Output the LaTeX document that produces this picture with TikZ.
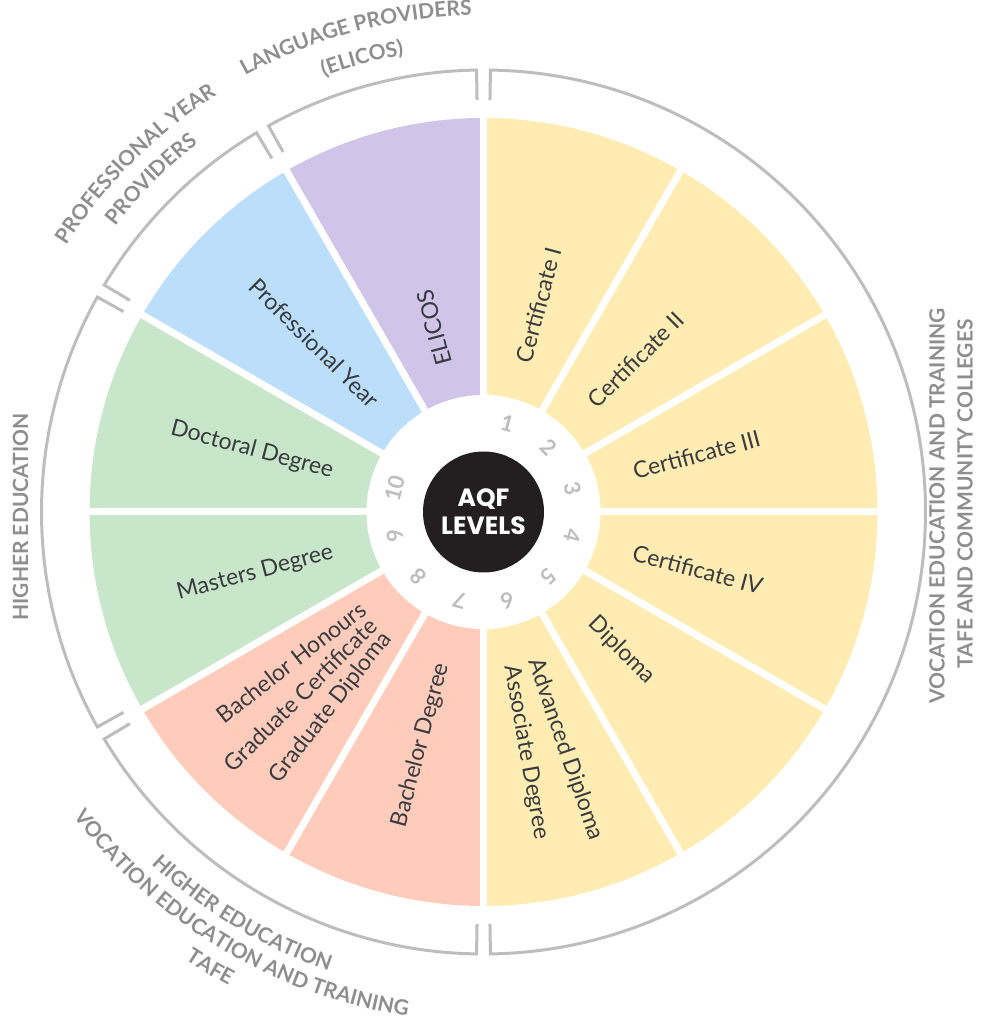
\documentclass[tikz,border=0pt]{standalone}
\usepackage{fontspec}
\setmainfont{Lato}
\newfontfamily\aqffont{Poppins}
\usepackage{tikz}
\usetikzlibrary{decorations.text}

\definecolor{secyellow}{HTML}{FFECB3}
\definecolor{secpurple}{HTML}{D1C4E9}
\definecolor{secblue}{HTML}{BBDEFB}
\definecolor{secgreen}{HTML}{C8E6C9}
\definecolor{secsalmon}{HTML}{FFCCBC}
\definecolor{ringgray}{HTML}{BDBDBD}
\definecolor{outgray}{HTML}{8E8E8E}
\definecolor{labgray}{HTML}{383B3F}
\definecolor{numgray}{HTML}{BDBDBD}
\definecolor{aqfblack}{HTML}{231F20}

\begin{document}
\begin{tikzpicture}[x=1pt, y=1pt,
    lab/.style={inner sep=0pt, font=\fontsize{23}{27}\selectfont, text=labgray},
    num/.style={inner sep=0pt, font=\fontsize{22}{26}\selectfont\bfseries, text=numgray},
    gap/.style={white, line width=7pt},
    bracket/.style={draw=ringgray, line width=3pt},
    grp/.style={inner sep=0pt, font=\fontsize{21}{25}\selectfont\bfseries, text=outgray},
    arctext/.style={decorate, decoration={text along path, text align=center, text color=outgray,
        text={|\fontsize{21}{25}\selectfont\bfseries|#1}}}
]
\useasboundingbox (-483.5,-510) rectangle (516.5,512);

% sectors
\fill[secyellow] (0,0) -- (-90:394pt) arc[start angle=-90, end angle=90, radius=394pt] -- cycle;
\fill[secpurple] (0,0) -- (90:394pt) arc[start angle=90, end angle=120, radius=394pt] -- cycle;
\fill[secblue] (0,0) -- (120:394pt) arc[start angle=120, end angle=150, radius=394pt] -- cycle;
\fill[secgreen] (0,0) -- (150:394pt) arc[start angle=150, end angle=210, radius=394pt] -- cycle;
\fill[secsalmon] (0,0) -- (210:394pt) arc[start angle=210, end angle=270, radius=394pt] -- cycle;
\foreach \a in {0,30,...,330} \draw[gap] (0,0) -- (\a:400pt);
\fill[white] (0,0) circle[radius=117pt];

% hub
\node[circle, fill=aqfblack, minimum size=121pt, inner sep=0pt, text=white, align=center,
      font=\aqffont\bfseries\fontsize{25}{28}\selectfont] (aqf) at (0,0) {AQF\\LEVELS};

% levels
\node[num, rotate=-15] (n1) at (75:92pt) {1};
\node[num, rotate=-45] (n2) at (45:92pt) {2};
\node[num, rotate=-75] (n3) at (15:92pt) {3};
\node[num, rotate=-105] (n4) at (-15:92pt) {4};
\node[num, rotate=-135] (n5) at (-45:92pt) {5};
\node[num, rotate=-165] (n6) at (-75:92pt) {6};
\node[num, rotate=-195] (n7) at (-105:92pt) {7};
\node[num, rotate=-225] (n8) at (-135:92pt) {8};
\node[num, rotate=-255] (n9) at (-165:92pt) {9};
\node[num, rotate=75] (n10) at (165:92pt) {10};

% qualifications
\node[lab, anchor=west, rotate=75] (cert1) at (75:155pt) {Certificate I};
\node[lab, anchor=west, rotate=45] (cert2) at (45:153pt) {Certificate II};
\node[lab, anchor=west, rotate=15] (cert3) at (15:155pt) {Certificate III};
\node[lab, anchor=west, rotate=-15] (cert4) at (-15:155pt) {Certificate IV};
\node[lab, anchor=west, rotate=-45] (dipl) at (-45:153pt) {Diploma};
\node[lab, anchor=west, rotate=-71] (advdipl) at (-71:156pt) {Advanced Diploma};
\node[lab, anchor=west, rotate=-80] (assoc) at (-80:156pt) {Associate Degree};
\node[lab, anchor=east, rotate=75] (bach) at (-105:157pt) {Bachelor Degree};
\node[lab, anchor=east, rotate=38] (bhons) at (-142:153pt) {Bachelor Honours};
\node[lab, anchor=east, rotate=45] (gcert) at (-135:156pt) {Graduate Certificate};
\node[lab, anchor=east, rotate=52] (gdipl) at (-128:156pt) {Graduate Diploma};
\node[lab, anchor=east, rotate=15] (mast) at (-165:156pt) {Masters Degree};
\node[lab, anchor=east, rotate=-15] (doct) at (165:156pt) {Doctoral Degree};
\node[lab, anchor=east, rotate=-45] (prof) at (135:153pt) {Professional Year};
\node[lab, anchor=west, rotate=105] (elicos) at (105:152pt) {ELICOS};

% provider brackets
\draw[bracket] (89.1:412pt) -- (89.1:442pt) arc[start angle=89.1, end angle=-89.1, radius=442pt] -- (-89.1:412pt);
\draw[bracket] (-90.9:412pt) -- (-90.9:442pt) arc[start angle=-90.9, end angle=-149.1, radius=442pt] -- (-149.1:412pt);
\draw[bracket] (209.1:412pt) -- (209.1:442pt) arc[start angle=209.1, end angle=150.9, radius=442pt] -- (150.9:412pt);
\draw[bracket] (149.1:412pt) -- (149.1:442pt) arc[start angle=149.1, end angle=120.9, radius=442pt] -- (120.9:412pt);
\draw[bracket] (119.1:412pt) -- (119.1:442pt) arc[start angle=119.1, end angle=90.9, radius=442pt] -- (90.9:412pt);

% provider names
\node[grp, rotate=90] (vet1) at (453.5,6) {VOCATION EDUCATION AND TRAINING};
\node[grp, rotate=90] (vet2) at (481.5,18) {TAFE AND COMMUNITY COLLEGES};
\node[grp, rotate=90] (he) at (-463,-5) {HIGHER EDUCATION};
\path[arctext={LANGUAGE PROVIDERS}] (135:497pt) arc[start angle=135, end angle=75, radius=497pt];
\path[arctext={(ELICOS)}] (135:464pt) arc[start angle=135, end angle=75, radius=464pt];
\path[arctext={PROFESSIONAL YEAR}] (165:495pt) arc[start angle=165, end angle=105, radius=495pt];
\path[arctext={PROVIDERS}] (165:466pt) arc[start angle=165, end angle=105, radius=466pt];
\path[arctext={HIGHER EDUCATION}] (-151:484pt) arc[start angle=-151, end angle=-91, radius=484pt];
\path[arctext={VOCATION EDUCATION AND TRAINING}] (-151:510pt) arc[start angle=-151, end angle=-91, radius=510pt];
\path[arctext={TAFE}] (-151:538pt) arc[start angle=-151, end angle=-91, radius=538pt];
\end{tikzpicture}
\end{document}
